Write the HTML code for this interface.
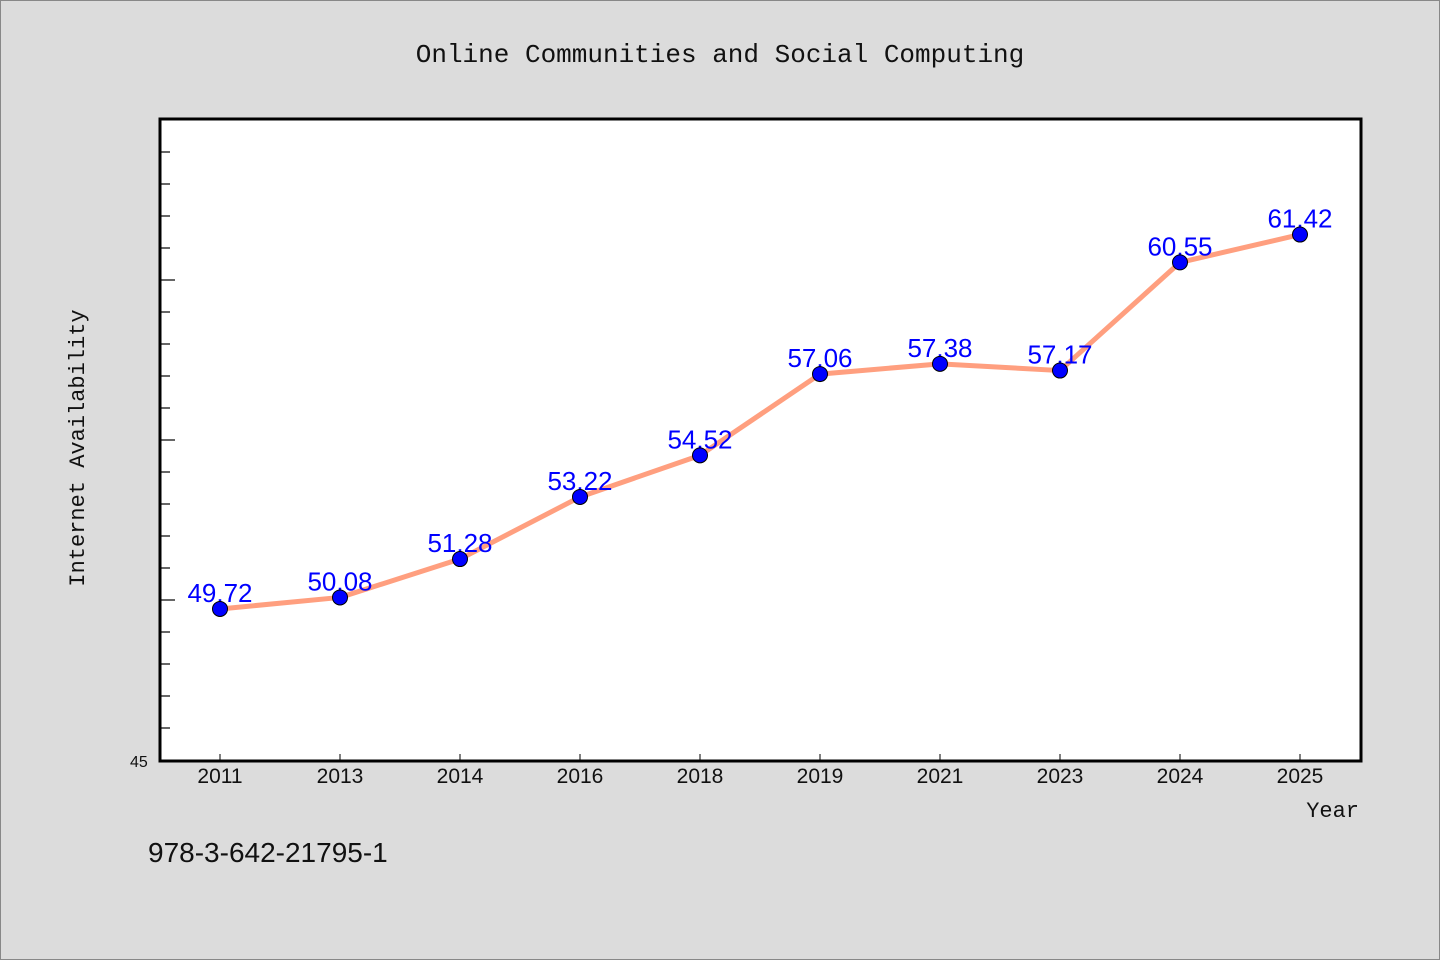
<!DOCTYPE html>
<html><head><meta charset="utf-8"><style>
html,body{margin:0;padding:0;background:#dcdcdc;}
svg{display:block;}
</style></head><body>
<svg width="1440" height="960" xmlns="http://www.w3.org/2000/svg">
<rect x="0.5" y="0.5" width="1439" height="959" fill="#dcdcdc" stroke="#888"/>
<text x="720" y="62" text-anchor="middle" font-family="'Liberation Mono',monospace" font-size="26" fill="#111">Online Communities and Social Computing</text>
<rect x="160" y="119" width="1201" height="642" fill="#fff" stroke="#000" stroke-width="3"/>
<g id="yticks"></g>
<g id="xticks"></g>
<g id="series"></g>
<text x="130" y="767" font-family="'Liberation Sans',sans-serif" font-size="16" fill="#111">45</text>
<text transform="translate(84,448) rotate(-90)" text-anchor="middle" font-family="'Liberation Mono',monospace" font-size="22" fill="#111">Internet Availability</text>
<text x="1359" y="817" text-anchor="end" font-family="'Liberation Mono',monospace" font-size="22" fill="#111">Year</text>
<text x="148" y="862" font-family="'Liberation Sans',sans-serif" font-size="28" fill="#111">978-3-642-21795-1</text>
</svg>
<script>
const categories = ["2011","2013","2014","2016","2018","2019","2021","2023","2024","2025"];
const values = [49.72,50.08,51.28,53.22,54.52,57.06,57.38,57.17,60.55,61.42];
const labels = ["49.72","50.08","51.28","53.22","54.52","57.06","57.38","57.17","60.55","61.42"];
const yMin = 45, yMax = 65;
const NS = "http://www.w3.org/2000/svg";
const y = v => 760 - (v - yMin) * 32;
const x = i => 220 + i * 120;
function mk(tag, attrs, parent){const e=document.createElementNS(NS,tag);for(const k in attrs)e.setAttribute(k,attrs[k]);parent.appendChild(e);return e;}
const yt = document.getElementById('yticks');
for (let v = yMin + 1; v < yMax; v++) {
  const len = (v % 5 === 0) ? 14 : 9;
  const t = mk('line',{x1:161,x2:161+len,y1:y(v),y2:y(v),stroke:'#000','stroke-width':1.2},yt);
  
  
}
const xt = document.getElementById('xticks');
categories.forEach((c,i)=>{
  const t = mk('line',{x1:x(i),x2:x(i),y1:761,y2:754,stroke:'#000','stroke-width':1},xt);
  
  
  const l = mk('text',{x:x(i),y:783,'text-anchor':'middle','font-family':"'Liberation Sans',sans-serif",'font-size':21,fill:'#111'},xt);
  l.textContent = c;
  
  
});
const s = document.getElementById('series');
const pl = mk('polyline',{points:values.map((v,i)=>x(i)+','+y(v)).join(' '),fill:'none',stroke:'#ff9f7f','stroke-width':5,'stroke-linejoin':'round'},s);


values.forEach((v,i)=>{
  const lab = mk('text',{x:x(i),y:y(v)-7,'text-anchor':'middle','font-family':"'Liberation Sans',sans-serif",'font-size':26,fill:'#0000ff'},s);
  lab.textContent = labels[i];
  
  
  const c = mk('circle',{cx:x(i),cy:y(v),r:7.5,fill:'#0000ff',stroke:'#000','stroke-width':1},s);
  
  
});
</script>
</body></html>
